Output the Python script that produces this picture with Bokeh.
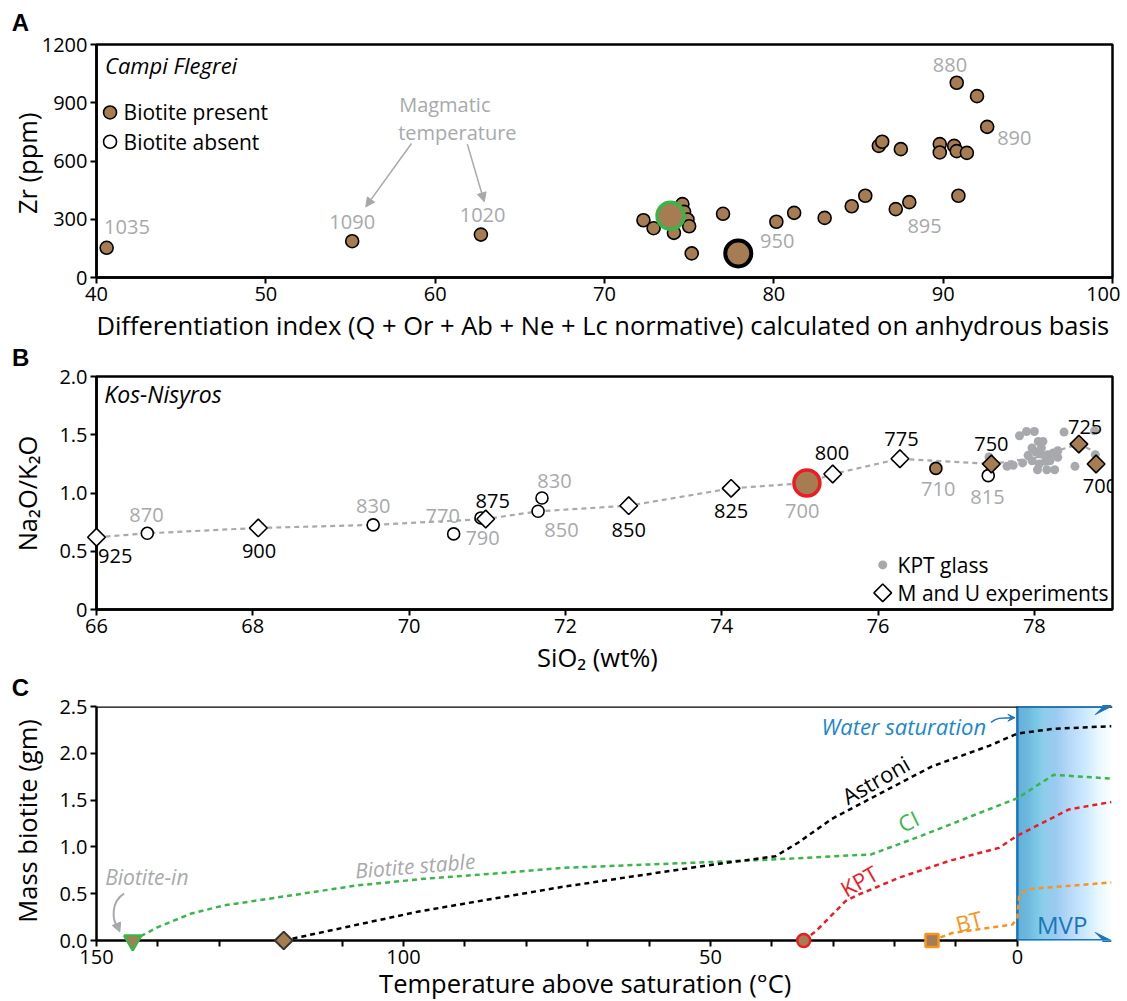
import numpy as np
from bokeh.plotting import figure
from bokeh.layouts import column
from bokeh.models import Range1d, FixedTicker, Arrow, NormalHead, VeeHead, Span
from bokeh.core.properties import value
from bokeh.embed import file_html
from bokeh.resources import INLINE

FONT = "Open Sans"
BROWN = "#A67C52"
GRAY = "#A7A9AC"
GREEN = "#39B54A"
RED = "#ED1C24"
ORANGE = "#F7941D"
BLUE = "#1C75BC"
BLUE_TXT = "#1B87CF"
TITLE_SIZE = "25.5px"

# ---------------- Panel A : Campi Flegrei ----------------
a_bt_x = [40.6, 55.1, 62.7, 72.3, 72.9, 74.1, 74.6, 74.7, 74.9, 75.0, 75.15, 77.0, 80.15,
          81.2, 83.0, 84.6, 85.4, 86.2, 86.4, 87.5, 87.2, 88.0, 89.8, 89.8, 90.65, 90.8,
          91.4, 90.9, 90.8, 92.0, 92.6]
a_bt_y = [153, 187, 221, 295, 254, 230, 378, 338, 299, 264, 124, 328, 287,
          333, 307, 367, 421, 678, 699, 661, 352, 388, 687, 644, 678, 651,
          642, 421, 1003, 934, 776]
a_green_x = [73.9]
a_green_y = [318]
a_black_x = [77.9]
a_black_y = [124]
a_temp_lbl = ["1035", "1090", "1020", "950", "895", "890", "880"]
a_temp_x = [41.8, 55.1, 62.8, 80.2, 88.9, 94.2, 90.4]
a_temp_y = [261, 287, 321, 189, 264, 721, 1094]
a_xticks = [40, 50, 60, 70, 80, 90, 100]
a_yticks = [0, 300, 600, 900, 1200]

# ---------------- Panel B : Kos-Nisyros ----------------
b_abs_x = [66.65, 69.54, 70.57, 70.92, 71.65, 71.70, 77.41]
b_abs_y = [0.654, 0.726, 0.649, 0.786, 0.843, 0.957, 1.149]
b_pres_x = [76.74]
b_pres_y = [1.211]
b_red_x = [75.09]
b_red_y = [1.086]
b_exp_x = [66.0, 68.07, 70.98, 72.81, 74.12, 75.42, 76.28]
b_exp_y = [0.62, 0.70, 0.777, 0.891, 1.04, 1.163, 1.294]
b_expbt_x = [77.45, 78.57, 78.79]
b_expbt_y = [1.249, 1.42, 1.249]
b_trend_x = [66.0, 66.65, 68.07, 69.54, 70.98, 71.65, 72.81, 74.12, 75.09, 75.42, 76.28, 77.45, 78.0, 78.57, 78.85]
b_trend_y = [0.62, 0.654, 0.70, 0.726, 0.777, 0.843, 0.891, 1.04, 1.086, 1.163, 1.294, 1.249, 1.30, 1.42, 1.33]
b_glass_x = [77.81, 77.90, 78.00, 78.05, 78.11, 77.97, 78.02, 78.08, 78.17, 78.24, 78.30, 78.30,
             77.92, 77.97, 78.06, 78.14, 78.04, 78.16, 78.26, 77.73, 77.65, 77.85, 78.52, 78.38,
             78.77, 78.78, 78.09, 78.20, 77.42]
b_glass_y = [1.491, 1.528, 1.528, 1.443, 1.443, 1.386, 1.352, 1.334, 1.329, 1.343, 1.363, 1.306,
             1.323, 1.277, 1.249, 1.272, 1.200, 1.200, 1.200, 1.238, 1.229, 1.258, 1.229, 1.523,
             1.534, 1.329, 1.386, 1.277, 1.31]
b_gray_lbl = ["870", "830", "770", "790", "830", "850", "700", "710", "815"]
b_gray_x = [66.64, 69.54, 70.43, 70.94, 71.86, 71.95, 75.03, 76.77, 77.40]
b_gray_y = [0.811, 0.886, 0.800, 0.615, 1.10, 0.68, 0.849, 1.034, 0.963]
b_blk_lbl = ["925", "900", "875", "850", "825", "800", "775", "750", "725", "700"]
b_blk_x = [66.24, 68.08, 71.07, 72.81, 74.12, 75.41, 76.30, 77.45, 78.65, 78.84]
b_blk_y = [0.463, 0.506, 0.932, 0.686, 0.843, 1.343, 1.46, 1.42, 1.569, 1.06]
b_xticks = [66, 68, 70, 72, 74, 76, 78]
b_yticks = [0, 0.5, 1.0, 1.5, 2.0]

# ---------------- Panel C : mass biotite ----------------
c_ast_t = [119.5, 97.5, 74.3, 49.7, 39.4, 35.6, 30.2, 21.5, 13.9, 4.6, 0.0, -5.6, -15.3]
c_ast_m = [0.0, 0.31, 0.571, 0.81, 0.90, 1.05, 1.30, 1.60, 1.86, 2.08, 2.21, 2.26, 2.29]
c_ci_t = [144.1, 140.1, 134.7, 129.3, 118.4, 107.6, 96.7, 85.9, 74.4, 49.7, 39.1, 23.8, 15.6, 0.0, -5.9, -15.3]
c_ci_m = [0.0, 0.14, 0.285, 0.374, 0.481, 0.588, 0.659, 0.712, 0.775, 0.839, 0.868, 0.92, 1.12, 1.52, 1.77, 1.73]
c_kpt_t = [34.8, 32.8, 28.0, 26.4, 19.3, 11.1, 3.0, 0.0, -8.4, -15.3]
c_kpt_m = [0.0, 0.10, 0.42, 0.475, 0.67, 0.85, 0.99, 1.12, 1.40, 1.48]
c_bt_t = [13.9, 10.6, 0.8, 0.0, -0.3, -1.9, -15.3]
c_bt_m = [0.0, 0.08, 0.17, 0.24, 0.49, 0.55, 0.62]
c_xticks = [150, 100, 50, 0]
c_xminor = [140, 130, 120, 110, 90, 80, 70, 60, 40, 30, 20, 10]
c_yticks = [0.0, 0.5, 1.0, 1.5, 2.0, 2.5]


def style(p, xticks, yticks):
    p.grid.visible = False
    p.background_fill_color = "white"
    p.border_fill_color = "white"
    p.outline_line_color = "black"
    p.outline_line_width = 2.5
    p.xaxis.ticker = FixedTicker(ticks=xticks)
    p.yaxis.ticker = FixedTicker(ticks=yticks)
    for ax in (p.xaxis[0], p.yaxis[0]):
        ax.axis_line_width = 2.5
        ax.axis_line_color = "black"
        ax.major_tick_line_width = 2
        ax.major_tick_line_color = "black"
        ax.major_tick_out = 6
        ax.major_tick_in = 0
        ax.minor_tick_line_color = None
        ax.major_label_text_font = FONT
        ax.major_label_text_font_size = "20px"
        ax.major_label_text_color = "black"
        ax.major_label_standoff = 3


def lab(p, x, y, text, size=TITLE_SIZE, color="black", angle=0.0, align="center",
        style_="normal", font=FONT):
    # text drawn at overlay level so that it is not clipped to the frame
    p.text(x=[x], y=[y], text=[text], angle=angle, text_font=value(font), text_font_size=size,
           text_color=color, text_align=align, text_baseline="middle",
           text_font_style=style_, level="overlay")


# ================= Panel A (page y 0..343) =================
pA = figure(width=1120, height=343, x_range=Range1d(40, 100), y_range=Range1d(0, 1200),
            output_backend="svg", toolbar_location=None,
            min_border_left=95, min_border_right=6, min_border_top=44, min_border_bottom=66)
style(pA, a_xticks, a_yticks)

pA.scatter(a_bt_x, a_bt_y, size=13, fill_color=BROWN, line_color="black", line_width=1.6)
pA.scatter(a_green_x, a_green_y, size=27, fill_color=BROWN, line_color=GREEN, line_width=3.5)
pA.scatter(a_black_x, a_black_y, size=26, fill_color=BROWN, line_color="black", line_width=4)
pA.text(x=a_temp_x, y=a_temp_y, text=a_temp_lbl, text_font=value(FONT), text_font_size="20px",
        text_color=GRAY, text_align="center", text_baseline="middle")
# legend
pA.scatter([40.8], [850], size=13, fill_color=BROWN, line_color="black", line_width=1.6)
pA.scatter([40.8], [699], size=13, fill_color="white", line_color="black", line_width=1.6)
pA.text(x=[41.6, 41.6], y=[850, 699], text=["Biotite present", "Biotite absent"],
        text_font=value(FONT), text_font_size="21px", text_color="black",
        text_align="left", text_baseline="middle")
pA.text(x=[40.5], y=[1094], text=["Campi Flegrei"], text_font=value(FONT), text_font_size="22px",
        text_font_style="italic", text_color="black", text_align="left", text_baseline="middle")
pA.text(x=[60.57, 61.31], y=[893, 747], text=["Magmatic", "temperature"], text_font=value(FONT),
        text_font_size="20px", text_color=GRAY, text_align="center", text_baseline="middle")
pA.add_layout(Arrow(x_start=58.6, y_start=690, x_end=55.9, y_end=364, line_color=GRAY, line_width=1.5,
                    end=NormalHead(size=9, fill_color=GRAY, line_color=GRAY)))
pA.add_layout(Arrow(x_start=61.9, y_start=687, x_end=62.9, y_end=390, line_color=GRAY, line_width=1.5,
                    end=NormalHead(size=9, fill_color=GRAY, line_color=GRAY)))
lab(pA, 35.9, 588, "Zr (ppm)", angle=np.pi / 2)
lab(pA, 69.9, -245, "Differentiation index (Q + Or + Ab + Ne + Lc normative) calculated on anhydrous basis")
lab(pA, 35.5, 1315, "A", size="24px", style_="bold", font="Liberation Sans")

# ================= Panel B (page y 343..675) =================
pB = figure(width=1120, height=332, x_range=Range1d(66, 79), y_range=Range1d(0, 2),
            output_backend="svg", toolbar_location=None,
            min_border_left=95, min_border_right=6, min_border_top=33, min_border_bottom=66)
style(pB, b_xticks, b_yticks)
pB.yaxis.major_label_overrides = {0: "0", 0.5: "0.5", 1: "1.0", 1.5: "1.5", 2: "2.0"}

pB.line(b_trend_x, b_trend_y, line_color=GRAY, line_width=2.2, line_dash="5 4")
pB.scatter(b_glass_x, b_glass_y, size=9, fill_color=GRAY, line_color=None)
pB.scatter(b_abs_x, b_abs_y, size=12, fill_color="white", line_color="black", line_width=1.6)
pB.scatter(b_pres_x, b_pres_y, size=12, fill_color=BROWN, line_color="black", line_width=1.6)
pB.scatter(b_red_x, b_red_y, size=26, fill_color=BROWN, line_color=RED, line_width=3.5)
pB.scatter(b_exp_x, b_exp_y, marker="square", angle=np.pi / 4, size=12.5, fill_color="white",
           line_color="black", line_width=1.6, level="overlay")
pB.scatter(b_expbt_x, b_expbt_y, marker="square", angle=np.pi / 4, size=12.5, fill_color=BROWN,
           line_color="black", line_width=1.6)
pB.text(x=b_gray_x, y=b_gray_y, text=b_gray_lbl, text_font=value(FONT), text_font_size="20px",
        text_color=GRAY, text_align="center", text_baseline="middle")
pB.text(x=b_blk_x, y=b_blk_y, text=b_blk_lbl, text_font=value(FONT), text_font_size="20px",
        text_color="black", text_align="center", text_baseline="middle")
# legend
pB.scatter([76.06], [0.383], size=9, fill_color=GRAY, line_color=None)
pB.scatter([76.06], [0.143], marker="square", angle=np.pi / 4, size=12.5, fill_color="white",
           line_color="black", line_width=1.6)
pB.text(x=[76.25, 76.25], y=[0.383, 0.143], text=["KPT glass", "M and U experiments"],
        text_font=value(FONT), text_font_size="21px", text_color="black",
        text_align="left", text_baseline="middle")
pB.text(x=[66.1], y=[1.85], text=["Kos-Nisyros"], text_font=value(FONT), text_font_size="23px",
        text_font_style="italic", text_color="black", text_align="left", text_baseline="middle")
lab(pB, 65.115, 0.996, "Na\u2082O/K\u2082O", angle=np.pi / 2)
lab(pB, 72.41, -0.412, "SiO\u2082 (wt%)")
lab(pB, 65.03, 2.162, "B", size="24px", style_="bold", font="Liberation Sans")

# ================= Panel C (page y 675..1000) =================
pC = figure(width=1120, height=325, x_range=Range1d(150, -15.5), y_range=Range1d(0, 2.5),
            output_backend="svg", toolbar_location=None,
            min_border_left=96, min_border_right=8, min_border_top=31, min_border_bottom=60)
style(pC, c_xticks, c_yticks)
pC.outline_line_color = None
pC.xaxis.ticker = FixedTicker(ticks=c_xticks, minor_ticks=c_xminor)
pC.xaxis.minor_tick_line_color = "black"
pC.xaxis.minor_tick_line_width = 2
pC.xaxis.minor_tick_out = 6
pC.xaxis.minor_tick_in = 0
pC.xaxis.bounds = (0, 150)
pC.yaxis.major_label_overrides = {0: "0.0", 0.5: "0.5", 1: "1.0", 1.5: "1.5", 2: "2.0", 2.5: "2.5"}
pC.add_layout(Span(location=2.5, dimension="width", line_color="black", line_width=2.5))

# MVP gradient band: nested quads all starting at the saturation line, so no seams
N = 50
ext = np.linspace(-15.5 / N, -15.5, N)           # right edge of each nested quad
frac = np.linspace(0.0, 1.0, N + 1)[:-1]         # position of each step
target = 0.92 * (1.0 - frac)                       # desired opacity profile
trans = 1.0 - target
trans_next = np.append(trans[1:], 1.0)
alph = 1.0 - trans / trans_next
pC.quad(left=np.zeros(N), right=ext, bottom=0, top=2.5, fill_color="#62BCEA",
        fill_alpha=alph, line_color=None)
pC.segment(x0=[0], y0=[0], x1=[0], y1=[2.5], line_color=BLUE, line_width=2.5)
for yy in (2.5, 0.0):
    pC.add_layout(Arrow(x_start=0, y_start=yy, x_end=-15.3, y_end=yy, line_color=BLUE, line_width=3,
                        end=VeeHead(size=16, fill_color=BLUE, line_color=BLUE)))

pC.line(c_ci_t, c_ci_m, line_color=GREEN, line_width=2.5, line_dash="5 4")
pC.line(c_ast_t, c_ast_m, line_color="black", line_width=2.5, line_dash="5 4")
pC.line(c_kpt_t, c_kpt_m, line_color=RED, line_width=2.5, line_dash="5 4")
pC.line(c_bt_t, c_bt_m, line_color=ORANGE, line_width=2.5, line_dash="5 4")

pC.scatter([c_ci_t[0]], [c_ci_m[0]], marker="inverted_triangle", size=17, fill_color=BROWN,
           line_color=GREEN, line_width=2.5, level="overlay")
pC.scatter([c_ast_t[0]], [c_ast_m[0]], marker="square", angle=np.pi / 4, size=12.5, fill_color=BROWN,
           line_color="#333333", line_width=2, level="overlay")
pC.scatter([c_kpt_t[0]], [c_kpt_m[0]], size=13, fill_color=BROWN, line_color=RED, line_width=2.5,
           level="overlay")
pC.scatter([c_bt_t[0]], [c_bt_m[0]], marker="square", size=13, fill_color=BROWN, line_color=ORANGE,
           line_width=2.5, level="overlay")

pC.text(x=[23.1], y=[1.72], text=["Astroni"], angle=0.52, text_font=value(FONT), text_font_size="22px",
        text_color="black", text_align="center", text_baseline="middle")
pC.text(x=[17.8], y=[1.28], text=["CI"], angle=0.45, text_font=value(FONT), text_font_size="22px",
        text_color=GREEN, text_align="center", text_baseline="middle")
pC.text(x=[25.8], y=[0.64], text=["KPT"], angle=0.52, text_font=value(FONT), text_font_size="22px",
        text_color=RED, text_align="center", text_baseline="middle")
pC.text(x=[7.9], y=[0.21], text=["BT"], angle=0.25, text_font=value(FONT), text_font_size="22px",
        text_color=ORANGE, text_align="center", text_baseline="middle")
pC.text(x=[-7.3], y=[0.17], text=["MVP"], text_font=value(FONT), text_font_size="24px",
        text_color=BLUE, text_align="center", text_baseline="middle")
pC.text(x=[18.5], y=[2.29], text=["Water saturation"], text_font=value(FONT), text_font_size="22px",
        text_font_style="italic", text_color=BLUE_TXT, text_align="center", text_baseline="middle")
pC.text(x=[141.8], y=[0.68], text=["Biotite-in"], text_font=value(FONT), text_font_size="21px",
        text_font_style="italic", text_color=GRAY, text_align="center", text_baseline="middle")
pC.text(x=[98.1], y=[0.80], text=["Biotite stable"], angle=0.08, text_font=value(FONT),
        text_font_size="21px", text_font_style="italic", text_color=GRAY, text_align="center",
        text_baseline="middle")
pC.bezier(x0=[145.5], y0=[0.50], x1=[146.4], y1=[0.13], cx0=[147.6], cy0=[0.42], cx1=[147.6], cy1=[0.22],
          line_color=GRAY, line_width=2)
pC.add_layout(Arrow(x_start=146.7, y_start=0.17, x_end=146.2, y_end=0.09, line_color=GRAY, line_width=2,
                    end=NormalHead(size=9, fill_color=GRAY, line_color=GRAY)))
pC.bezier(x0=[4.3], y0=[2.33], x1=[0.5], y1=[2.38], cx0=[3.0], cy0=[2.40], cx1=[2.0], cy1=[2.37],
          line_color=BLUE, line_width=1.5)
pC.add_layout(Arrow(x_start=1.2, y_start=2.38, x_end=0.4, y_end=2.38, line_color=BLUE, line_width=1.5,
                    end=VeeHead(size=7, fill_color=BLUE, line_color=BLUE)))

lab(pC, 161.4, 1.277, "Mass biotite (gm)", angle=np.pi / 2)
lab(pC, 70.4, -0.455, "Temperature above saturation (\u00b0C)")
lab(pC, 162.4, 2.70, "C", size="24px", style_="bold", font="Liberation Sans")

layout = column(pA, pB, pC, spacing=0)
open("out.html", "w").write(file_html(layout, INLINE))
